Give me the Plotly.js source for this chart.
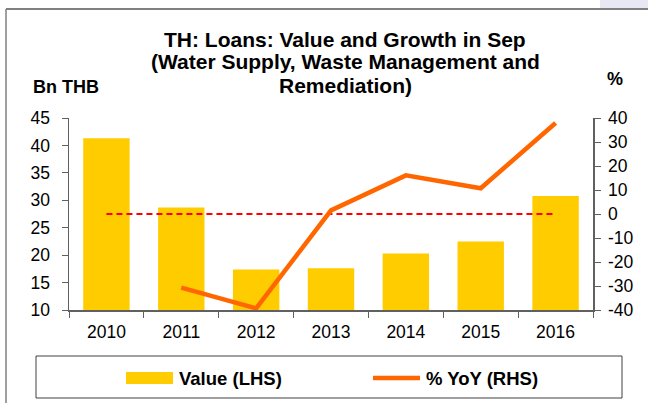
<!DOCTYPE html>
<html>
<head>
<meta charset="utf-8">
<script src="https://cdn.plot.ly/plotly-3.0.1.min.js"></script>
<style>html,body{margin:0;padding:0;background:#fff;}#chart{width:648px;height:403px;}</style>
</head>
<body>
<div id="chart"></div>
<script>
// ---- data ----
var years = ['2010', '2011', '2012', '2013', '2014', '2015', '2016'];
var valueLHS = [41.3, 28.7, 17.4, 17.6, 20.3, 22.5, 30.8];
var yoyYears = ['2011', '2012', '2013', '2014', '2015', '2016'];
var yoyRHS = [-30.7, -39.3, 1.5, 16.1, 10.7, 37.9];
var zeroLine = [0, 0, 0, 0, 0, 0, 0];
var leftTicks = [10, 15, 20, 25, 30, 35, 40, 45];
var rightTicks = [-40, -30, -20, -10, 0, 10, 20, 30, 40];
var titleLines = ['TH: Loans: Value and Growth in Sep', '(Water Supply, Waste Management and', 'Remediation)'];

var FONT = 'Liberation Sans, Arial, sans-serif';
var L = 69, R = 593, T = 118, B = 310;
function px(x) { return (x - L) / (R - L); }
function py(y) { return (B - y) / (B - T); }

var traces = [
  {
    type: 'bar', x: years, y: valueLHS, name: 'Value (LHS)',
    marker: {color: '#FFCC00', line: {width: 0}}, width: 0.62,
    hoverinfo: 'x+y', yaxis: 'y'
  },
  {
    type: 'scatter', mode: 'lines', x: years, y: zeroLine, yaxis: 'y2',
    line: {color: '#FF0000', width: 2, dash: '6px,4px'}, hoverinfo: 'skip', showlegend: false
  },
  {
    type: 'scatter', mode: 'lines', x: yoyYears, y: yoyRHS, name: '% YoY (RHS)', yaxis: 'y2',
    line: {color: '#FF6600', width: 4.5}
  }
];

var annotations = [];
var titleY = [39, 62, 85];
titleLines.forEach(function (t, i) {
  annotations.push({xref: 'paper', yref: 'paper', x: px(345), y: py(titleY[i]), xanchor: 'center', yanchor: 'middle',
    text: '<b>' + t + '</b>', showarrow: false, font: {family: FONT, size: 21, color: '#000'}});
});
annotations.push({xref: 'paper', yref: 'paper', x: px(31), y: py(87), xanchor: 'left', yanchor: 'middle',
  text: '<b>Bn THB</b>', showarrow: false, font: {family: FONT, size: 18, color: '#000'}});
annotations.push({xref: 'paper', yref: 'paper', x: px(615), y: py(79), xanchor: 'center', yanchor: 'middle',
  text: '<b>%</b>', showarrow: false, font: {family: FONT, size: 18, color: '#000'}});
// legend texts
annotations.push({xref: 'paper', yref: 'paper', x: px(177), y: py(378), xanchor: 'left', yanchor: 'middle',
  text: '<b>Value (LHS)</b>', showarrow: false, font: {family: FONT, size: 18.5, color: '#000'}});
annotations.push({xref: 'paper', yref: 'paper', x: px(424), y: py(378), xanchor: 'left', yanchor: 'middle',
  text: '<b>% YoY (RHS)</b>', showarrow: false, font: {family: FONT, size: 18.5, color: '#000'}});

var shapes = [
  // outer frame
  {type: 'rect', xref: 'paper', yref: 'paper', x0: px(600), x1: px(648), y0: py(0), y1: py(8), fillcolor: '#E8E8F4', line: {width: 0}, layer: 'below'},
  {type: 'line', xref: 'paper', yref: 'paper', x0: px(6), x1: px(648), y0: py(9), y1: py(9), line: {color: '#808080', width: 2}},
  {type: 'line', xref: 'paper', yref: 'paper', x0: px(6), x1: px(6), y0: py(9), y1: py(403), line: {color: '#808080', width: 1.5}},
  // legend box
  {type: 'rect', xref: 'paper', yref: 'paper', x0: px(36), x1: px(622), y0: py(356), y1: py(398), line: {color: '#404040', width: 1}, fillcolor: 'rgba(0,0,0,0)'},
  {type: 'rect', xref: 'paper', yref: 'paper', x0: px(126), x1: px(173), y0: py(372), y1: py(384), fillcolor: '#FFCC00', line: {width: 0}},
  {type: 'line', xref: 'paper', yref: 'paper', x0: px(373), x1: px(420), y0: py(378), y1: py(378), line: {color: '#FF6600', width: 4.5}}
];

var tickFont = {family: FONT, size: 17.5, color: '#000'};
var layout = {
  width: 648, height: 403,
  margin: {l: L, r: 648 - R, t: T, b: 403 - B, pad: 0},
  paper_bgcolor: '#fff', plot_bgcolor: '#fff',
  showlegend: false,
  font: {family: FONT, size: 16, color: '#000'},
  xaxis: {
    type: 'category', tickson: 'boundaries', ticks: 'outside', ticklen: 6, tickcolor: '#606060', tickwidth: 1,
    showline: true, linecolor: '#606060', linewidth: 1.5, showgrid: false, zeroline: false,
    tickfont: tickFont, range: [-0.5, 6.5], ticklabelstandoff: 5
  },
  yaxis: {
    range: [10, 45], tickvals: leftTicks, ticktext: leftTicks.map(String), ticks: 'outside', ticklen: 6,
    tickcolor: '#606060', showline: true, linecolor: '#606060', linewidth: 1.5, showgrid: false, zeroline: false,
    tickfont: tickFont, ticklabelstandoff: 8
  },
  yaxis2: {
    overlaying: 'y', side: 'right', range: [-40, 40], tickvals: rightTicks, ticktext: rightTicks.map(String),
    ticks: 'outside', ticklen: 6, tickcolor: '#606060', showline: true, linecolor: '#606060', linewidth: 1.5,
    showgrid: false, zeroline: false, tickfont: tickFont, ticklabelstandoff: 4
  },
  annotations: annotations,
  shapes: shapes
};

Plotly.newPlot('chart', traces, layout, {displayModeBar: false, staticPlot: true});
</script>
</body>
</html>
